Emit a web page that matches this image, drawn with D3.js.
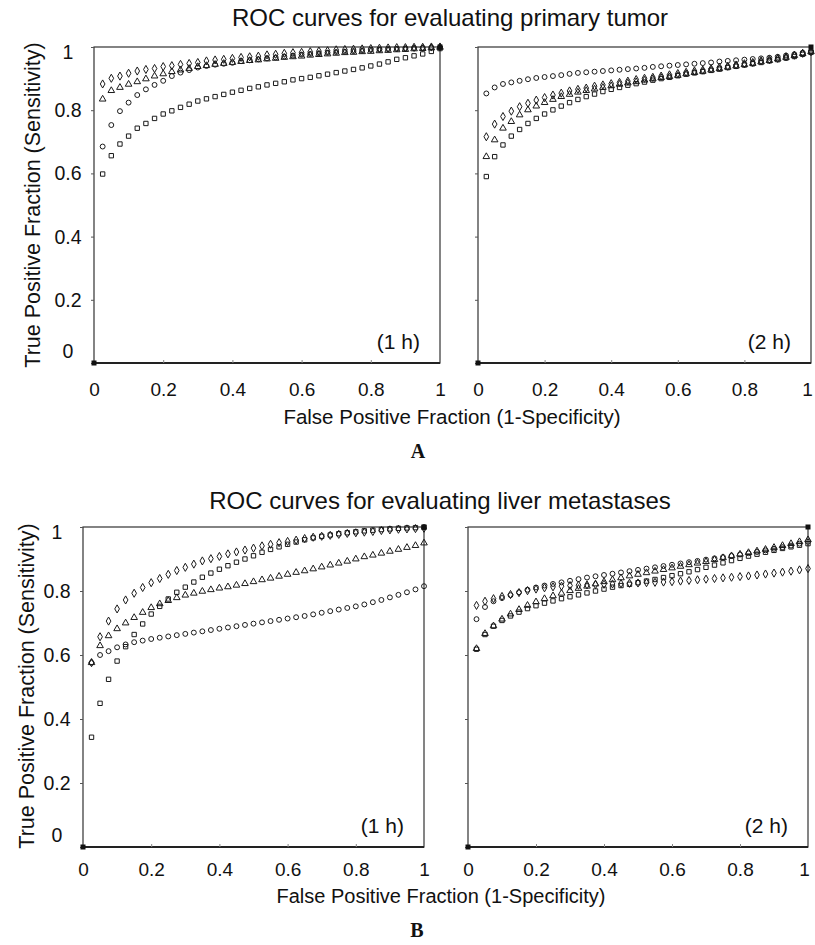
<!DOCTYPE html>
<html>
<head>
<meta charset="utf-8">
<script src="https://cdn.jsdelivr.net/npm/d3@7"></script>
<style>
	body { margin: 0; background: white; }
	text { font-family: "Liberation Sans", Arial, sans-serif; fill: #111; }
</style>
</head>
<body>
<script>
// false positive fraction, same grid for every curve
var fpf = [0.025, 0.05, 0.075, 0.1, 0.125, 0.15, 0.175, 0.2, 0.225, 0.25,
	0.275, 0.3, 0.325, 0.35, 0.375, 0.4, 0.425, 0.45, 0.475, 0.5,
	0.525, 0.55, 0.575, 0.6, 0.625, 0.65, 0.675, 0.7, 0.725, 0.75,
	0.775, 0.8, 0.825, 0.85, 0.875, 0.9, 0.925, 0.95, 0.975, 1]

var tickValues = [0, 0.2, 0.4, 0.6, 0.8, 1]
var tickLabels = ["0", "0.2", "0.4", "0.6", "0.8", "1"]
var cornerPoints = [[0, 0], [1, 1]]

// A: primary tumor, 1 h
var a1hDiamond = [0.883, 0.901, 0.908, 0.917, 0.924, 0.929, 0.932, 0.938, 0.941, 0.945, 0.948, 0.951, 0.956, 0.959, 0.961, 0.964, 0.967, 0.969, 0.971, 0.975, 0.977, 0.980, 0.982, 0.983, 0.985, 0.987, 0.988, 0.991, 0.992, 0.993, 0.994, 0.995, 0.996, 0.997, 0.998, 0.998, 0.999, 0.999, 1.0, 1.0]
var a1hTriangle = [0.835, 0.862, 0.872, 0.882, 0.890, 0.899, 0.908, 0.915, 0.922, 0.927, 0.932, 0.938, 0.941, 0.945, 0.948, 0.951, 0.954, 0.957, 0.959, 0.962, 0.964, 0.967, 0.969, 0.971, 0.974, 0.976, 0.978, 0.980, 0.982, 0.983, 0.985, 0.986, 0.988, 0.989, 0.991, 0.992, 0.994, 0.995, 0.997, 0.999]
var a1hCircle = [0.685, 0.753, 0.797, 0.824, 0.848, 0.866, 0.880, 0.893, 0.908, 0.919, 0.927, 0.935, 0.940, 0.944, 0.947, 0.950, 0.955, 0.958, 0.961, 0.964, 0.967, 0.970, 0.973, 0.976, 0.978, 0.980, 0.982, 0.984, 0.985, 0.987, 0.988, 0.991, 0.992, 0.993, 0.994, 0.995, 0.996, 0.997, 0.998, 0.999]
var a1hSquare = [0.598, 0.656, 0.693, 0.718, 0.743, 0.758, 0.774, 0.788, 0.798, 0.809, 0.819, 0.829, 0.836, 0.843, 0.850, 0.857, 0.863, 0.869, 0.874, 0.880, 0.885, 0.890, 0.896, 0.900, 0.904, 0.909, 0.914, 0.919, 0.924, 0.929, 0.934, 0.940, 0.946, 0.953, 0.961, 0.966, 0.972, 0.978, 0.986, 0.995]

// A: primary tumor, 2 h
var a2hCircle = [0.853, 0.872, 0.883, 0.888, 0.893, 0.898, 0.902, 0.905, 0.908, 0.911, 0.915, 0.918, 0.920, 0.922, 0.924, 0.926, 0.928, 0.930, 0.932, 0.934, 0.937, 0.939, 0.941, 0.943, 0.945, 0.947, 0.949, 0.951, 0.954, 0.956, 0.958, 0.960, 0.962, 0.964, 0.966, 0.969, 0.973, 0.977, 0.982, 0.987]
var a2hDiamond = [0.716, 0.756, 0.780, 0.797, 0.811, 0.822, 0.832, 0.840, 0.848, 0.854, 0.861, 0.866, 0.870, 0.876, 0.880, 0.884, 0.888, 0.892, 0.897, 0.901, 0.904, 0.908, 0.912, 0.916, 0.920, 0.924, 0.927, 0.931, 0.936, 0.939, 0.943, 0.947, 0.951, 0.956, 0.960, 0.964, 0.969, 0.974, 0.980, 0.985]
var a2hTriangle = [0.653, 0.706, 0.743, 0.764, 0.785, 0.801, 0.813, 0.824, 0.834, 0.843, 0.850, 0.857, 0.862, 0.867, 0.872, 0.877, 0.882, 0.886, 0.890, 0.895, 0.899, 0.903, 0.906, 0.910, 0.915, 0.919, 0.923, 0.927, 0.931, 0.936, 0.940, 0.944, 0.948, 0.953, 0.957, 0.962, 0.967, 0.973, 0.979, 0.985]
var a2hSquare = [0.590, 0.653, 0.690, 0.718, 0.739, 0.758, 0.774, 0.788, 0.801, 0.813, 0.824, 0.834, 0.843, 0.851, 0.859, 0.866, 0.872, 0.879, 0.884, 0.889, 0.895, 0.900, 0.904, 0.909, 0.914, 0.918, 0.922, 0.926, 0.930, 0.935, 0.939, 0.943, 0.947, 0.951, 0.956, 0.960, 0.965, 0.970, 0.977, 0.983]

// B: liver metastases, 1 h
var b1hDiamond = [0.576, 0.657, 0.706, 0.744, 0.772, 0.793, 0.811, 0.826, 0.839, 0.852, 0.864, 0.874, 0.884, 0.894, 0.901, 0.908, 0.916, 0.922, 0.928, 0.934, 0.941, 0.946, 0.951, 0.955, 0.959, 0.964, 0.968, 0.971, 0.974, 0.977, 0.980, 0.982, 0.984, 0.986, 0.989, 0.991, 0.993, 0.994, 0.995, 0.996]
var b1hSquare = [0.343, 0.449, 0.524, 0.581, 0.626, 0.664, 0.697, 0.728, 0.752, 0.775, 0.796, 0.812, 0.828, 0.843, 0.856, 0.868, 0.879, 0.890, 0.900, 0.910, 0.921, 0.930, 0.938, 0.946, 0.953, 0.960, 0.966, 0.971, 0.975, 0.979, 0.982, 0.985, 0.988, 0.990, 0.992, 0.994, 0.996, 0.997, 0.998, 0.999]
var b1hTriangle = [0.576, 0.629, 0.660, 0.682, 0.700, 0.717, 0.733, 0.748, 0.760, 0.770, 0.779, 0.787, 0.793, 0.799, 0.804, 0.809, 0.813, 0.818, 0.823, 0.829, 0.835, 0.840, 0.846, 0.852, 0.858, 0.863, 0.869, 0.875, 0.881, 0.887, 0.893, 0.900, 0.907, 0.912, 0.918, 0.924, 0.930, 0.936, 0.942, 0.950]
var b1hCircle = [0.576, 0.600, 0.612, 0.624, 0.633, 0.640, 0.645, 0.650, 0.654, 0.658, 0.662, 0.666, 0.670, 0.674, 0.678, 0.682, 0.686, 0.690, 0.694, 0.698, 0.702, 0.706, 0.710, 0.714, 0.718, 0.722, 0.727, 0.732, 0.737, 0.742, 0.747, 0.752, 0.758, 0.765, 0.772, 0.780, 0.788, 0.796, 0.805, 0.815]

// B: liver metastases, 2 h
var b2hDiamond = [0.755, 0.768, 0.776, 0.783, 0.789, 0.795, 0.801, 0.806, 0.810, 0.813, 0.815, 0.817, 0.818, 0.819, 0.820, 0.821, 0.822, 0.823, 0.824, 0.825, 0.826, 0.827, 0.828, 0.829, 0.831, 0.833, 0.835, 0.837, 0.839, 0.841, 0.843, 0.845, 0.847, 0.850, 0.853, 0.856, 0.859, 0.862, 0.866, 0.870]
var b2hCircle = [0.712, 0.750, 0.768, 0.778, 0.787, 0.796, 0.804, 0.811, 0.817, 0.822, 0.827, 0.832, 0.837, 0.842, 0.846, 0.850, 0.854, 0.858, 0.862, 0.866, 0.870, 0.874, 0.878, 0.882, 0.886, 0.890, 0.894, 0.898, 0.902, 0.906, 0.910, 0.914, 0.918, 0.922, 0.927, 0.932, 0.937, 0.942, 0.948, 0.954]
var b2hTriangle = [0.620, 0.667, 0.691, 0.712, 0.728, 0.742, 0.755, 0.766, 0.776, 0.785, 0.793, 0.801, 0.808, 0.815, 0.822, 0.829, 0.835, 0.841, 0.847, 0.852, 0.857, 0.862, 0.867, 0.872, 0.877, 0.882, 0.887, 0.892, 0.898, 0.904, 0.910, 0.915, 0.920, 0.925, 0.930, 0.936, 0.942, 0.948, 0.954, 0.960]
var b2hSquare = [0.618, 0.664, 0.690, 0.708, 0.722, 0.734, 0.745, 0.754, 0.762, 0.769, 0.776, 0.782, 0.788, 0.794, 0.800, 0.806, 0.812, 0.817, 0.821, 0.826, 0.831, 0.836, 0.842, 0.848, 0.854, 0.860, 0.867, 0.874, 0.881, 0.888, 0.895, 0.902, 0.909, 0.915, 0.921, 0.927, 0.933, 0.938, 0.943, 0.948]

var width = 815
var height = 945

var panels = [
	{ tag: "(1 h)", left: 94, right: 440, top: 47, bottom: 363, yLabels: true, pad: 20,
		series: [[d3.symbolSquare, a1hSquare], [d3.symbolCircle, a1hCircle], [d3.symbolTriangle, a1hTriangle], [d3.symbolDiamond, a1hDiamond]] },
	{ tag: "(2 h)", left: 478, right: 811, top: 47, bottom: 363, yLabels: false, pad: 20,
		series: [[d3.symbolSquare, a2hSquare], [d3.symbolTriangle, a2hTriangle], [d3.symbolDiamond, a2hDiamond], [d3.symbolCircle, a2hCircle]] },
	{ tag: "(1 h)", left: 83, right: 424, top: 527, bottom: 847, yLabels: true, pad: 16,
		series: [[d3.symbolSquare, b1hSquare], [d3.symbolCircle, b1hCircle], [d3.symbolTriangle, b1hTriangle], [d3.symbolDiamond, b1hDiamond]] },
	{ tag: "(2 h)", left: 468, right: 808, top: 527, bottom: 847, yLabels: false, pad: 16,
		series: [[d3.symbolSquare, b2hSquare], [d3.symbolTriangle, b2hTriangle], [d3.symbolCircle, b2hCircle], [d3.symbolDiamond, b2hDiamond]] }
]

var symbolSize = {}
symbolSize[d3.symbolSquare] = 21
symbolSize[d3.symbolCircle] = 16
symbolSize[d3.symbolTriangle] = 19
symbolSize[d3.symbolDiamond] = 19

var svg = d3.select("body")
	.append("svg")
	.attr("width", width)
	.attr("height", height)

panels.forEach(function(p) {
	var x = d3.scaleLinear().domain([0, 1]).range([p.left, p.right])
	var y = d3.scaleLinear().domain([0, 1]).range([p.bottom, p.top])
	var g = svg.append("g")

	// frame
	g.append("rect")
		.attr("x", p.left)
		.attr("y", p.top)
		.attr("width", p.right - p.left)
		.attr("height", p.bottom - p.top)
		.attr("fill", "none")
		.attr("stroke", "#333")
		.attr("stroke-width", 1.2)

	g.append("line")
		.attr("x1", p.left)
		.attr("x2", p.right)
		.attr("y1", p.bottom)
		.attr("y2", p.bottom)
		.attr("stroke", "#222")
		.attr("stroke-width", 2)

	var yAxis = g.append("g")
		.attr("transform", "translate(" + p.left + ",0)")
		.call(d3.axisLeft(y)
			.tickValues(tickValues)
			.tickSize(3)
			.tickSizeOuter(0)
			.tickFormat(function(d, i) { return p.yLabels ? tickLabels[i] : "" }))
	yAxis.select(".domain").remove()
	yAxis.selectAll("line").attr("stroke", "#555")
	yAxis.selectAll("text")
		.attr("x", -26)
		.attr("dy", function(d) {
			if (d === 0) return -6
			if (d === 1) return 11
			return 6.5
		})
		.style("text-anchor", "middle")
		.style("font-size", "19.5px")
		.style("font-family", "'Liberation Sans', Arial, sans-serif")
		.attr("fill", "#111")

	var xAxis = g.append("g")
		.attr("transform", "translate(0," + p.bottom + ")")
		.call(d3.axisBottom(x)
			.tickValues(tickValues)
			.tickSize(-3)
			.tickSizeOuter(0)
			.tickPadding(p.pad)
			.tickFormat(function(d, i) { return tickLabels[i] }))
	xAxis.select(".domain").remove()
	xAxis.selectAll("line").attr("stroke", "#888")
	xAxis.selectAll("text")
		.attr("dx", function(d) { return (d === 1 && p.right > 800) ? -4 : 0 })
		.style("font-size", "19px")
		.style("font-family", "'Liberation Sans', Arial, sans-serif")
		.attr("fill", "#111")

	// ROC points
	p.series.forEach(function(s) {
		g.selectAll(null)
			.data(s[1])
			.enter()
			.append("path")
			.attr("d", d3.symbol().type(s[0]).size(symbolSize[s[0]]))
			.attr("transform", function(d, i) { return "translate(" + x(fpf[i]) + "," + y(d) + ")" })
			.attr("fill", "none")
			.attr("stroke", "#1a1a1a")
			.attr("stroke-width", 1)
	})

	g.selectAll(null)
		.data(cornerPoints)
		.enter()
		.append("rect")
		.attr("x", function(d) { return x(d[0]) - 2.5 })
		.attr("y", function(d) { return y(d[1]) - 2.5 })
		.attr("width", 5)
		.attr("height", 5)
		.attr("fill", "#111")

	g.append("text")
		.attr("x", p.right - 20)
		.attr("y", p.bottom - 14)
		.attr("text-anchor", "end")
		.style("font-size", "21px")
		.text(p.tag)
})

// titles and axis names
var labels = [
	{ text: "ROC curves for evaluating primary tumor", x: 450, y: 26, size: 24 },
	{ text: "False Positive Fraction (1-Specificity)", x: 452, y: 424, size: 20.5 },
	{ text: "ROC curves for evaluating liver metastases", x: 440, y: 509, size: 24 },
	{ text: "False Positive Fraction (1-Specificity)", x: 441, y: 903, size: 20 }
]
labels.forEach(function(l) {
	svg.append("text")
		.attr("x", l.x)
		.attr("y", l.y)
		.attr("text-anchor", "middle")
		.style("font-size", l.size + "px")
		.text(l.text)
})

svg.append("text")
	.attr("transform", "translate(40,205) rotate(-90)")
	.attr("text-anchor", "middle")
	.style("font-size", "21.5px")
	.text("True Positive Fraction (Sensitivity)")

svg.append("text")
	.attr("transform", "translate(34,686) rotate(-90)")
	.attr("text-anchor", "middle")
	.style("font-size", "21.5px")
	.text("True Positive Fraction (Sensitivity)")

var letters = [["A", 418, 458], ["B", 417, 937]]
letters.forEach(function(l) {
	svg.append("text")
		.attr("x", l[1])
		.attr("y", l[2])
		.attr("text-anchor", "middle")
		.style("font-family", "'Liberation Serif', 'Times New Roman', serif")
		.style("font-weight", "bold")
		.style("font-size", "20px")
		.text(l[0])
})
</script>
</body>
</html>
